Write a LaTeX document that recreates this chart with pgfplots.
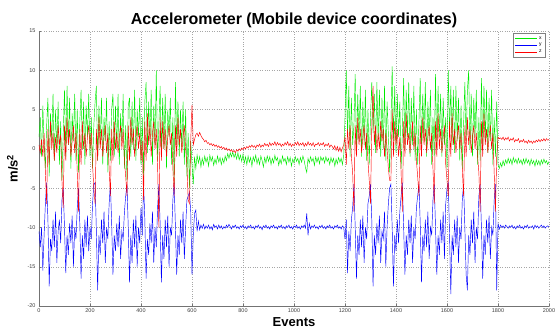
\documentclass[border=0pt]{standalone}
\usepackage{pgfplots}
\usepackage{pgfplotstable}
\pgfplotsset{compat=1.18}
\usepackage{fontspec}
\setmainfont{Liberation Sans}
\definecolor{mgreen}{RGB}{0,235,0}
\definecolor{mblue}{RGB}{0,0,255}
\definecolor{mred}{RGB}{255,0,0}
\pgfplotstableread{
ev gx by rz
0 1.5 -10.5 0.5
5 4.0 -12.5 -0.5
10 -1.0 -10.0 1.2
15 5.5 -15.5 -1.0
20 0.5 -11.0 2.0
25 -2.5 -7.0 -3.0
30 3.0 -4.3 -7.0
35 6.5 -9.0 2.5
40 -3.5 -17.5 -2.0
45 4.5 -11.5 3.5
50 1.0 -13.0 0.0
55 7.0 -9.0 2.0
60 -1.5 -12.5 -1.5
65 5.0 -8.0 1.5
70 0.0 -14.5 -0.5
75 6.0 -10.5 3.0
80 -2.0 -9.0 0.5
85 3.5 -12.0 1.8
90 -4.0 -6.5 -4.0
95 2.0 -5.0 -7.5
100 7.5 -10.0 3.0
105 -1.0 -15.8 -1.5
110 8.0 -11.0 4.0
115 0.5 -13.5 0.5
120 6.5 -9.5 2.5
125 -2.5 -12.0 -1.0
130 4.5 -8.5 1.0
135 1.0 -15.0 3.0
140 7.0 -10.0 -0.5
145 -1.5 -11.5 2.0
150 5.0 -7.5 -3.0
155 -3.0 -5.0 -8.0
160 3.5 -9.5 2.5
165 7.5 -16.5 -2.0
170 0.0 -11.0 3.5
175 6.0 -14.0 0.0
180 -2.0 -9.0 2.0
185 5.5 -12.5 -1.0
190 1.5 -8.5 1.5
195 7.0 -13.0 3.0
200 -1.0 -10.0 0.0
205 4.0 -11.5 2.0
210 -2.5 -7.0 -2.0
215 3.0 -4.5 -5.0
220 6.0 -4.3 -7.0
225 8.0 -10.5 2.5
230 -1.5 -18.0 -1.5
235 5.5 -11.0 4.0
240 0.5 -13.5 0.0
245 6.5 -9.0 2.5
250 -2.0 -12.0 -1.0
255 4.0 -8.0 1.5
260 1.0 -14.5 3.0
265 6.5 -10.0 -0.5
270 -3.0 -11.5 2.0
275 3.5 -7.0 -2.5
280 -1.5 -4.5 -6.0
285 5.0 -9.5 2.5
290 7.0 -16.0 -1.5
295 -1.0 -11.0 3.5
300 5.5 -13.0 0.0
305 0.0 -9.5 2.0
310 7.0 -12.5 -0.5
315 -2.0 -8.5 1.5
320 4.5 -14.0 3.0
325 1.0 -10.5 0.0
330 7.0 -11.5 2.5
335 -2.5 -8.0 -1.5
340 3.0 -6.0 -3.5
345 -4.0 -4.5 -6.0
350 5.5 -10.0 3.0
355 6.5 -17.0 -1.5
360 -1.0 -11.0 4.0
365 6.0 -14.5 0.5
370 0.0 -9.0 2.5
375 7.5 -12.5 -1.0
380 -1.5 -8.5 1.5
385 5.0 -15.0 3.0
390 1.5 -10.0 0.0
395 6.5 -12.0 2.0
400 -2.0 -7.5 -1.5
405 4.0 -11.0 1.0
410 -3.5 -4.3 -6.5
415 6.0 -9.0 3.5
420 8.5 -16.5 -1.5
425 -0.5 -11.5 4.5
430 6.0 -13.5 0.5
435 1.0 -9.5 3.0
440 7.5 -12.0 -1.0
445 -2.0 -8.0 2.0
450 5.5 -14.5 3.5
455 0.5 -10.0 0.0
460 10.0 -12.5 2.5
465 -1.5 -7.5 -2.0
470 3.0 -4.5 -10.0
475 8.0 -9.5 4.0
480 -0.5 -17.0 -1.5
485 6.5 -11.0 3.5
490 0.0 -14.0 0.0
495 7.0 -9.0 2.5
500 -2.5 -12.5 -1.0
505 5.0 -8.5 1.5
510 1.5 -15.0 3.0
515 6.5 -10.0 0.5
520 -2.0 -11.0 2.0
525 4.0 -6.5 -2.5
530 -4.5 -4.3 -6.0
535 8.5 -10.0 3.0
540 0.5 -16.0 -1.0
545 6.0 -11.0 4.0
550 -1.0 -13.5 0.5
555 5.0 -9.0 2.5
560 0.0 -12.0 -0.5
565 6.0 -8.0 1.5
570 -2.0 -14.0 3.0
575 5.0 -10.0 0.0
580 -3.5 -6.5 -2.0
585 2.0 -6.0 -6.5
590 -5.0 -5.5 -7.0
595 1.0 -8.0 1.0
600 -2.0 -16.0 5.6
605 -4.5 -11.0 0.5
610 -1.0 -8.2 1.2
615 -2.5 -7.8 1.8
620 -0.8 -10.5 2.0
625 -1.8 -9.2 1.6
630 -1.0 -10.3 2.1
635 -2.3 -9.7 1.7
640 -1.2 -10.1 1.4
645 -2.0 -9.6 1.2
650 -0.9 -10.2 0.9
655 -1.7 -9.8 1.1
660 -1.1 -10.1 0.7
665 -2.2 -9.7 0.8
670 -0.8 -10.2 0.5
675 -1.6 -9.9 0.7
680 -1.0 -10.3 0.4
685 -2.1 -9.6 0.6
690 -1.3 -10.0 0.3
695 -1.9 -9.8 0.5
700 -0.9 -10.2 0.2
705 -1.7 -9.7 0.4
710 -1.1 -10.1 0.1
715 -2.0 -9.8 0.3
720 -1.2 -10.2 0.0
725 -1.8 -9.9 0.2
730 -0.9 -10.1 -0.1
735 -1.5 -9.7 0.1
740 -0.6 -10.0 -0.2
745 -1.2 -9.6 0.0
750 -0.5 -9.9 -0.3
755 -1.0 -10.2 -0.1
760 -0.4 -9.8 -0.4
765 -1.1 -10.0 -0.2
770 -0.6 -9.7 -0.5
775 -1.3 -10.1 -0.1
780 -0.5 -9.9 -0.3
785 -1.4 -10.2 0.0
790 -0.8 -9.8 -0.2
795 -1.6 -10.0 0.1
800 -0.7 -9.7 -0.1
805 -1.8 -10.1 0.2
810 -1.0 -9.9 0.0
815 -2.0 -10.2 0.3
820 -0.9 -9.8 0.1
825 -1.7 -10.0 0.4
830 -1.1 -9.7 0.2
835 -2.2 -10.1 0.5
840 -1.0 -9.9 0.2
845 -1.6 -10.2 0.4
850 -0.8 -9.8 0.1
855 -1.9 -10.0 0.5
860 -1.2 -9.7 0.3
865 -2.0 -10.1 0.6
870 -0.9 -9.9 0.2
875 -1.5 -10.3 0.5
880 -2.3 -9.8 0.3
885 -1.1 -10.0 0.7
890 -1.8 -9.7 0.4
895 -0.9 -10.1 0.6
900 -1.6 -9.9 0.3
905 -1.0 -10.2 0.8
910 -2.0 -9.8 0.4
915 -1.2 -10.0 0.7
920 -1.8 -9.7 0.5
925 -0.8 -10.1 0.9
930 -1.5 -9.9 0.4
935 -1.1 -10.2 0.8
940 -2.1 -9.8 0.5
945 -1.3 -10.0 0.7
950 -1.9 -9.7 0.3
955 -0.9 -10.1 0.6
960 -1.6 -9.9 0.4
965 -1.2 -10.2 0.8
970 -2.0 -9.8 0.5
975 -1.0 -10.0 0.9
980 -1.7 -9.7 0.4
985 -1.1 -10.1 0.7
990 -2.2 -9.9 0.3
995 -1.3 -10.2 0.6
1000 -1.8 -9.8 0.4
1005 -1.0 -10.0 0.8
1010 -1.6 -9.7 0.5
1015 -1.2 -10.1 0.9
1020 -2.0 -9.9 0.4
1025 -1.1 -10.2 0.7
1030 -1.7 -9.8 0.5
1035 -0.9 -10.0 0.8
1040 -1.5 -9.7 0.3
1045 -2.4 -10.1 0.7
1050 -3.0 -8.2 0.4
1055 -1.2 -11.0 0.9
1060 -1.8 -9.5 0.5
1065 -1.0 -10.2 0.7
1070 -1.6 -9.8 0.4
1075 -1.2 -10.0 0.8
1080 -2.1 -9.7 0.3
1085 -1.0 -10.1 0.6
1090 -1.7 -9.9 0.5
1095 -1.1 -10.2 0.8
1100 -1.9 -9.8 0.4
1105 -1.0 -10.0 0.7
1110 -1.5 -9.7 0.5
1115 -1.1 -10.1 0.8
1120 -1.8 -9.9 0.3
1125 -1.0 -10.2 0.6
1130 -1.6 -9.8 0.4
1135 -1.2 -10.0 0.7
1140 -2.0 -9.7 0.2
1145 -1.1 -10.1 0.5
1150 -1.7 -9.9 0.3
1155 -1.2 -10.2 0.0
1160 -2.2 -9.8 0.4
1165 -1.3 -10.0 -0.2
1170 -1.9 -9.7 0.3
1175 -1.1 -10.1 -0.3
1180 -1.7 -9.9 0.2
1185 -1.2 -10.2 -0.4
1190 -2.0 -9.8 0.1
1195 -0.8 -10.0 0.5
1200 4.0 -11.5 1.5
1205 10.0 -9.0 -2.0
1210 1.5 -15.8 2.5
1215 8.0 -10.5 0.0
1220 -1.0 -13.0 3.0
1225 6.5 -9.0 -1.0
1230 0.5 -7.5 -3.0
1235 3.0 -4.5 -8.0
1240 9.5 -10.0 3.0
1245 -0.5 -16.5 -1.0
1250 7.0 -11.0 4.0
1255 1.0 -13.5 0.5
1260 8.0 -9.0 2.5
1265 -1.0 -12.5 -0.5
1270 6.0 -8.5 1.5
1275 0.5 -14.5 3.0
1280 7.5 -10.0 0.0
1285 -1.5 -11.5 2.0
1290 5.0 -7.0 -1.5
1295 -2.0 -6.0 -4.0
1300 4.0 -4.5 -7.0
1305 8.5 -9.0 3.0
1310 2.0 -17.5 8.0
1315 7.0 -11.0 0.5
1320 -0.5 -13.5 3.0
1325 8.5 -9.5 -0.5
1330 1.0 -12.0 2.0
1335 7.5 -8.5 0.0
1340 -1.0 -14.5 3.5
1345 6.5 -10.5 1.0
1350 0.0 -11.5 2.5
1355 8.0 -8.0 -1.0
1360 -1.5 -15.0 2.0
1365 6.0 -10.0 0.0
1370 2.0 -7.0 -2.5
1375 -3.0 -5.0 -4.0
1380 3.0 -4.5 -4.0
1385 10.5 -10.0 5.0
1390 1.0 -17.5 -1.0
1395 8.0 -11.0 3.5
1400 -0.5 -13.0 0.5
1405 7.0 -9.0 2.5
1410 1.5 -12.0 -1.0
1415 6.0 -8.0 1.5
1420 -2.5 -6.0 -3.0
1425 2.0 -4.3 -8.0
1430 9.0 -10.0 3.5
1435 0.0 -16.0 -1.0
1440 7.5 -11.0 4.5
1445 1.5 -13.5 0.5
1450 8.5 -9.0 2.0
1455 -1.0 -12.0 -0.5
1460 6.5 -8.5 1.5
1465 0.5 -14.5 3.5
1470 8.0 -10.0 0.0
1475 -1.5 -11.5 2.0
1480 5.0 -7.5 -1.5
1485 -2.0 -6.0 -3.5
1490 3.5 -4.5 -6.0
1495 9.0 -9.5 3.0
1500 0.5 -17.0 -1.0
1505 7.0 -11.0 4.0
1510 1.0 -13.0 0.5
1515 8.5 -9.0 2.5
1520 -1.0 -12.5 -0.5
1525 6.0 -8.0 1.5
1530 1.0 -14.0 3.0
1535 7.5 -10.0 0.0
1540 -2.0 -11.0 2.0
1545 4.0 -6.5 -2.5
1550 -1.0 -4.5 -7.0
1555 9.5 -10.0 3.5
1560 0.0 -16.0 -1.0
1565 8.0 -11.0 4.5
1570 1.5 -13.5 0.0
1575 7.0 -9.0 2.5
1580 -1.0 -12.0 -0.5
1585 6.5 -8.0 1.5
1590 0.5 -14.0 3.0
1595 4.0 -7.0 -2.0
1600 -2.5 -5.0 -4.0
1605 10.0 -4.3 -6.0
1610 2.0 -11.0 3.5
1615 8.0 -18.5 -1.0
1620 0.5 -11.0 4.5
1625 7.5 -13.5 0.5
1630 -0.5 -9.0 2.5
1635 8.0 -12.5 -0.5
1640 1.0 -8.5 1.5
1645 6.5 -14.5 3.0
1650 -1.5 -10.0 0.0
1655 5.5 -11.5 2.0
1660 -2.5 -6.5 -2.5
1665 3.0 -4.5 -6.0
1670 8.5 -10.0 3.0
1675 1.0 -16.0 -1.0
1680 7.5 -18.0 4.0
1685 10.0 -11.0 0.5
1690 0.0 -13.5 2.5
1695 7.0 -9.0 -0.5
1700 -1.0 -12.0 1.5
1705 6.5 -8.0 3.0
1710 1.5 -14.5 0.0
1715 7.5 -10.0 2.0
1720 -2.0 -11.5 -1.0
1725 4.0 -6.0 -3.0
1730 -1.5 -4.5 -8.0
1735 9.0 -10.0 3.5
1740 0.5 -16.5 -1.0
1745 8.0 -11.0 4.5
1750 1.0 -13.5 0.5
1755 7.5 -9.0 2.5
1760 -0.5 -12.0 -0.5
1765 6.5 -8.5 1.5
1770 1.0 -14.0 3.0
1775 7.5 -10.0 0.0
1780 -2.0 -11.0 2.0
1785 4.0 -6.5 -3.0
1790 -1.0 -4.5 -8.0
1795 6.0 -18.0 -1.0
1800 -2.0 -9.5 1.5
1805 -2.5 -10.2 1.3
1810 -1.8 -9.7 1.4
1815 -2.3 -10.0 1.2
1820 -1.5 -9.8 1.5
1825 -2.1 -10.1 1.1
1830 -1.4 -9.7 1.4
1835 -1.9 -9.9 1.2
1840 -1.2 -10.1 1.5
1845 -1.8 -9.8 1.0
1850 -1.3 -10.0 1.3
1855 -2.0 -9.7 1.1
1860 -1.1 -10.1 1.4
1865 -1.7 -9.9 0.9
1870 -1.3 -10.2 1.2
1875 -1.9 -9.8 1.0
1880 -1.2 -10.0 1.3
1885 -1.8 -9.7 0.8
1890 -1.4 -10.1 1.1
1895 -2.0 -9.9 0.9
1900 -1.3 -10.2 1.2
1905 -1.9 -9.8 0.8
1910 -1.2 -10.0 1.0
1915 -1.8 -9.7 0.7
1920 -1.4 -10.1 1.1
1925 -2.1 -9.9 0.8
1930 -1.3 -10.0 1.0
1935 -1.9 -9.8 0.7
1940 -1.5 -10.2 1.0
1945 -2.2 -9.7 0.8
1950 -1.4 -10.0 1.1
1955 -2.0 -9.8 0.9
1960 -1.5 -10.1 1.2
1965 -2.1 -9.9 0.9
1970 -1.4 -9.7 1.2
1975 -1.9 -10.0 1.0
1980 -1.3 -9.8 1.3
1985 -1.8 -10.1 1.0
1990 -1.5 -9.9 1.3
1995 -2.0 -9.8 1.1
2000 -1.6 -9.9 1.2
}\accdata
\begin{document}
\begin{tikzpicture}
\useasboundingbox (-39pt,-24pt) rectangle (516pt,306pt);
\begin{axis}[
  at={(0pt,0pt)}, anchor=south west,
  scale only axis, width=510pt, height=275pt,
  xmin=0, xmax=2000, ymin=-20, ymax=15,
  xtick={0,200,...,2000}, ytick={-20,-15,...,15},
  axis x line*=bottom, axis y line*=left,
  axis line style={-, black!55},
  tick align=inside, major tick length=2.5pt,
  tick style={black!55},
  grid=major,
  major grid style={dotted, black!35, line width=0.4pt},
  tick label style={font=\fontsize{5.5}{6}\selectfont, text=black!75},
  /pgf/number format/assume math mode=true,
  /pgf/number format/set thousands separator={},
  scaled ticks=false,
  xticklabel style={yshift=0.5pt},
  title={Accelerometer (Mobile device coordinates)},
  title style={font=\bfseries\fontsize{16}{18}\selectfont, at={(axis description cs:0.5,1.016)}, anchor=center},
  xlabel={Events},
  xlabel style={font=\bfseries\fontsize{13}{15}\selectfont, at={(axis description cs:0.5,-0.058)}, anchor=center},
  ylabel={m/s\textsuperscript{2}},
  ylabel style={font=\bfseries\fontsize{13}{15}\selectfont, at={(axis description cs:-0.052,0.5)}, anchor=center},
  legend style={at={(rel axis cs:0.993,0.993)}, anchor=north east, font=\fontsize{5}{6}\selectfont,
    draw=black!50, inner sep=1.5pt, row sep=-1.5pt, cells={anchor=west}},
  legend image code/.code={\draw[#1, line width=0.6pt] (0pt,0pt) -- (22pt,0pt);},
  every axis plot/.append style={line width=0.45pt},
]
\addplot[mgreen] table[x=ev, y=gx] {\accdata};
\addlegendentry{x}
\addplot[mblue] table[x=ev, y=by] {\accdata};
\addlegendentry{y}
\addplot[mred] table[x=ev, y=rz] {\accdata};
\addlegendentry{z}
\end{axis}
\end{tikzpicture}
\end{document}
